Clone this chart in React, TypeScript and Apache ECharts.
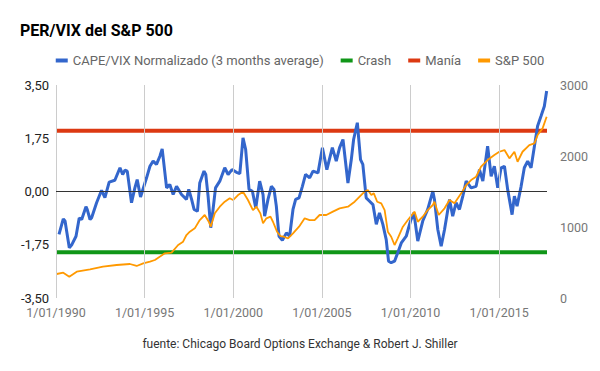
import React, { useEffect, useRef } from "react";
import * as echarts from "echarts";

// Decimal years and values of CAPE/VIX normalized (3 month average)
const capeYears = [
  1990.17, 1990.41, 1990.51, 1990.75, 1990.9, 1991.13, 1991.31, 1991.45, 1991.69, 1991.76,
  1991.92, 1992.01, 1992.29, 1992.57, 1992.76, 1993.0, 1993.32, 1993.61, 1993.76, 1993.89,
  1994.02, 1994.26, 1994.45, 1994.58, 1994.77, 1995.11, 1995.3, 1995.48, 1995.67, 1995.86,
  1995.99, 1996.24, 1996.42, 1996.61, 1996.8, 1997.08, 1997.36, 1997.49, 1997.65, 1997.79,
  1997.98, 1998.11, 1998.35, 1998.45, 1998.58, 1998.73, 1998.86, 1999.0, 1999.24, 1999.52,
  1999.71, 1999.93, 2000.18, 2000.37, 2000.55, 2000.7, 2000.89, 2001.08, 2001.27, 2001.49,
  2001.68, 2001.77, 2001.96, 2002.15, 2002.3, 2002.43, 2002.58, 2002.77, 2003.0, 2003.18,
  2003.37, 2003.52, 2003.71, 2003.9, 2004.08, 2004.31, 2004.5, 2004.78, 2005.03, 2005.28,
  2005.59, 2005.81, 2006.0, 2006.19, 2006.47, 2006.66, 2006.79, 2007.0, 2007.18, 2007.31,
  2007.5, 2007.69, 2007.88, 2008.07, 2008.25, 2008.44, 2008.63, 2008.76, 2008.91, 2009.1,
  2009.28, 2009.48, 2009.76, 2010.0, 2010.19, 2010.41, 2010.69, 2010.97, 2011.26, 2011.35,
  2011.54, 2011.73, 2011.92, 2012.2, 2012.38, 2012.57, 2012.76, 2012.95, 2013.14, 2013.42,
  2013.7, 2013.89, 2014.08, 2014.35, 2014.55, 2014.73, 2014.92, 2015.11, 2015.3, 2015.48,
  2015.73, 2015.86, 2016.01, 2016.24, 2016.42, 2016.61, 2016.8, 2016.99, 2017.17, 2017.36,
  2017.55, 2017.68,
];
const capeValues = [
  -1.41, -0.9, -0.97, -1.85, -1.74, -1.47, -0.87, -0.92, -0.5, -0.59,
  -0.92, -0.86, -0.37, 0.04, -0.2, 0.31, 0.37, 0.78, 0.56, 0.7,
  0.67, -0.37, 0.12, 0.39, -0.18, 0.45, 0.83, 1.0, 0.89, 1.16,
  1.4, 0.12, 0.23, -0.1, 0.17, -0.1, -0.26, 0.07, -0.26, -0.59,
  -0.65, 0.28, 0.67, 0.56, -0.15, -1.19, -0.59, 0.12, 0.34, 0.78,
  0.56, 0.72, 0.63, 0.59, 1.76, 1.38, 0.07, 0.01, -0.54, 0.34,
  -0.1, -0.81, -0.26, 0.17, 0.07, -0.48, -1.47, -1.6, -1.36, -1.47,
  -0.59, -0.26, -0.21, 0.17, 0.56, 0.45, 0.67, 0.61, 1.44, 0.72,
  1.44, 1.0, 1.44, 1.71, 0.28, 1.05, 1.71, 2.26, 1.05, 0.89,
  -0.21, -0.32, -0.43, -1.08, -0.7, -1.08, -1.58, -2.29, -2.34, -2.29,
  -2.01, -1.69, -1.47, -0.97, -0.7, -1.63, -0.97, -0.59, 0.01, -0.26,
  -1.25, -1.8, -1.25, -0.26, -0.81, -0.37, -0.59, -0.15, 0.34, 0.12,
  0.17, 0.72, 0.34, 1.49, 0.5, 0.83, 0.12, 0.78, 0.83, 0.07,
  -0.76, -0.15, -0.48, 0.17, 0.78, 1.0, 0.78, 1.49, 2.15, 2.47,
  2.8, 3.3,
];

// S&P 500 index level
const spYears = [
  1990.04, 1990.41, 1990.75, 1991.17, 1991.92, 1992.65, 1993.42, 1994.17, 1994.55, 1994.92,
  1995.3, 1995.58, 1996.14, 1996.52, 1996.89, 1997.17, 1997.36, 1997.55, 1997.83, 1998.11,
  1998.39, 1998.62, 1998.73, 1998.96, 1999.24, 1999.52, 1999.8, 1999.99, 2000.27, 2000.55,
  2000.83, 2001.11, 2001.31, 2001.53, 2001.68, 2001.87, 2002.1, 2002.24, 2002.47, 2002.66,
  2002.85, 2003.09, 2003.37, 2003.71, 2004.03, 2004.31, 2004.59, 2004.87, 2005.25, 2005.62,
  2006.0, 2006.47, 2006.85, 2007.13, 2007.41, 2007.59, 2007.79, 2007.93, 2008.12, 2008.35,
  2008.54, 2008.72, 2008.91, 2009.1, 2009.28, 2009.57, 2009.85, 2010.23, 2010.41, 2010.69,
  2010.97, 2011.26, 2011.35, 2011.59, 2011.92, 2012.2, 2012.48, 2012.86, 2013.14, 2013.42,
  2013.7, 2013.98, 2014.35, 2014.73, 2015.01, 2015.3, 2015.58, 2015.86, 2016.04, 2016.32,
  2016.7, 2016.99, 2017.17, 2017.45, 2017.68,
];
const spValues = [
  338, 356, 300, 371, 404, 441, 465, 479, 451, 488,
  511, 535, 629, 638, 746, 793, 887, 934, 981, 1098,
  1169, 1074, 1004, 1193, 1286, 1356, 1404, 1380, 1450, 1497,
  1380, 1239, 1286, 1192, 1052, 1122, 1145, 1074, 934, 873,
  863, 840, 911, 1004, 1122, 1098, 1098, 1169, 1169, 1216,
  1263, 1286, 1356, 1427, 1497, 1521, 1450, 1474, 1356, 1333,
  1239, 934, 863, 746, 840, 1004, 1098, 1216, 1074, 1145,
  1239, 1310, 1356, 1169, 1263, 1380, 1333, 1474, 1591, 1661,
  1708, 1849, 1943, 2013, 2060, 2084, 1967, 2060, 1919, 2060,
  2154, 2178, 2295, 2389, 2553,
];

const crashLevel = -2.0;
const maniaLevel = 2.0;
const xStart = 1990;
const xEnd = 2017.7;
const xGridYears = [1990, 1995, 2000, 2005, 2010, 2015];
const leftTicks = { min: -3.5, max: 3.5, step: 1.75 };
const rightTicks = { min: 0, max: 3000, step: 1000 };

const seriesNames = ["CAPE/VIX Normalizado (3 months average)", "Crash", "Manía", "S&P 500"];

const FONT = "Roboto, 'Noto Sans', sans-serif";

export default function App() {
  const ref = useRef<HTMLDivElement>(null);

  useEffect(() => {
    if (!ref.current) return;
    const chart = echarts.init(ref.current, undefined, { renderer: "svg" });
    const capeData = capeYears.map((y, i) => [y, capeValues[i]]);
    const spData = spYears.map((y, i) => [y, spValues[i]]);
    chart.setOption({
      animation: false,
      textStyle: { fontFamily: FONT },
      title: {
        text: "PER/VIX del S&P 500",
        left: 15,
        top: 17,
        textStyle: { fontSize: 16, fontWeight: "bold", color: "#000", fontFamily: FONT },
      },
      legend: {
        data: seriesNames,
        top: 49,
        left: "center",
        icon: "rect",
        itemWidth: 12,
        itemHeight: 4,
        itemGap: 17,
        textStyle: { fontSize: 13, color: "#666", fontFamily: FONT },
      },
      grid: { left: 56, right: 53, top: 85, bottom: 73, containLabel: false },
      xAxis: {
        type: "value",
        min: xStart,
        max: xEnd,
        interval: 5,
        axisLine: { show: false },
        axisTick: { show: false },
        splitLine: { show: false },
        axisLabel: {
          show: true,
          showMaxLabel: false,
          margin: 8,
          color: "#777",
          fontSize: 12.5,
          fontFamily: FONT,
          formatter: (v: number) => (xGridYears.includes(v) ? `1/01/${v}` : ""),
        },
      },
      yAxis: [
        {
          type: "value",
          min: leftTicks.min,
          max: leftTicks.max,
          interval: leftTicks.step,
          axisLine: { show: false },
          axisTick: { show: false },
          splitLine: { show: false },
          axisLabel: {
            margin: 7,
            color: "#222",
            fontSize: 13,
            fontFamily: FONT,
            formatter: (v: number) => v.toFixed(2).replace(".", ","),
          },
        },
        {
          type: "value",
          min: rightTicks.min,
          max: rightTicks.max,
          interval: rightTicks.step,
          axisLine: { show: false },
          axisTick: { show: false },
          splitLine: { show: false },
          axisLabel: {
            margin: 13,
            color: "#777",
            fontSize: 12.5,
            fontFamily: FONT,
            formatter: (v: number) => String(v),
          },
        },
      ],
      graphic: [
        {
          type: "text",
          left: "center",
          top: 338,
          style: {
            text: "fuente: Chicago Board Options Exchange & Robert J. Shiller",
            fontSize: 12,
            fill: "#333",
            fontFamily: FONT,
          },
        },
      ],
      series: [
        {
          name: "grid",
          type: "line",
          data: [],
          silent: true,
          z: 0,
          markLine: {
            silent: true,
            symbol: "none",
            label: { show: false },
            lineStyle: { color: "#ccc", width: 1, type: "solid" },
            data: xGridYears.map((y) => ({ xAxis: y })),
          },
        },
        {
          name: "zero",
          type: "line",
          data: [],
          silent: true,
          z: 1,
          markLine: {
            silent: true,
            symbol: "none",
            label: { show: false },
            lineStyle: { color: "#333", width: 1, type: "solid" },
            data: [{ yAxis: 0 }],
          },
        },
        {
          name: seriesNames[1],
          type: "line",
          yAxisIndex: 0,
          data: [[xStart, crashLevel], [xEnd, crashLevel]],
          showSymbol: false,
          symbol: "none",
          lineStyle: { color: "#109618", width: 4 },
          itemStyle: { color: "#109618" },
          z: 2,
        },
        {
          name: seriesNames[2],
          type: "line",
          yAxisIndex: 0,
          data: [[xStart, maniaLevel], [xEnd, maniaLevel]],
          showSymbol: false,
          symbol: "none",
          lineStyle: { color: "#dc3912", width: 4 },
          itemStyle: { color: "#dc3912" },
          z: 2,
        },
        {
          name: seriesNames[0],
          type: "line",
          yAxisIndex: 0,
          data: capeData,
          showSymbol: false,
          symbol: "none",
          lineStyle: { color: "#3366cc", width: 3 },
          itemStyle: { color: "#3366cc" },
          z: 3,
        },
        {
          name: seriesNames[3],
          type: "line",
          yAxisIndex: 1,
          data: spData,
          showSymbol: false,
          symbol: "none",
          lineStyle: { color: "#ff9900", width: 1.8 },
          itemStyle: { color: "#ff9900" },
          z: 4,
        },
      ],
    });
    return () => chart.dispose();
  }, []);

  return <div ref={ref} style={{ width: 600, height: 371, position: "absolute", left: 0, top: 0 }} />;
}
